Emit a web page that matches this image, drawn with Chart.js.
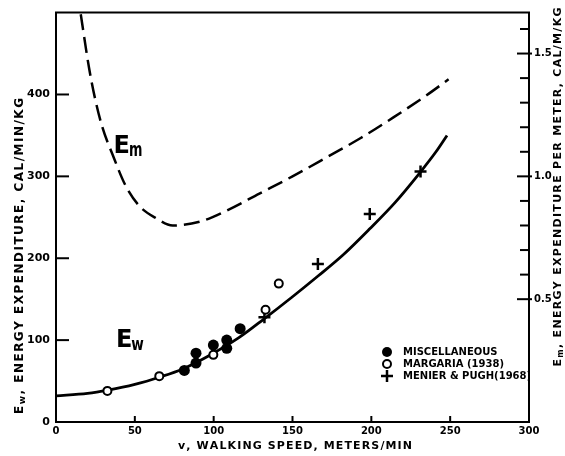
<!DOCTYPE html>
<html><head><meta charset="utf-8">
<script src="https://cdn.jsdelivr.net/npm/chart.js@4.4.1/dist/chart.umd.min.js"></script>
<style>html,body{margin:0;padding:0;background:#fff;}#wrap{width:565px;height:456px;position:relative;}</style>
</head><body><div id="wrap"><canvas id="c" width="565" height="456"></canvas></div>
<script>
const FONT = '"DejaVu Sans", sans-serif';

// Ew curve (cal/min/kg) vs walking speed (m/min)
const ewCurveSpeed  = [0, 20, 33, 50, 66, 80, 97, 116, 132, 150, 166, 182, 199, 215, 231, 241, 248];
const ewCurveEnergy = [32, 35, 39, 46, 55, 64.5, 81, 103, 126, 153, 178, 204, 236, 268, 305, 330, 350];

// Em curve (cal/m/kg, right axis) vs walking speed
const emCurveSpeed  = [15.7, 21, 25, 29.4, 35.8, 44.3, 52.8, 63.4, 74, 91, 108, 129, 150, 171, 193, 214, 235, 249];
const emCurveEnergy = [1.66, 1.44, 1.31, 1.20, 1.09, 0.96, 0.88, 0.83, 0.80, 0.815, 0.86, 0.93, 1.00, 1.075, 1.155, 1.24, 1.33, 1.395];

// Measured points
const miscSpeed  = [81.4, 88.8, 88.8, 99.8, 108.3, 108.3, 116.8];
const miscEnergy = [63, 84, 72, 94, 100, 90, 114];
const margariaSpeed  = [32.6, 65.5, 99.8, 132.9, 141.3];
const margariaEnergy = [38, 56, 82, 137, 169];
const menierSpeed  = [132.2, 166.1, 199, 231.2];
const menierEnergy = [128, 193, 254, 306];

// Ticks
const xTicks = [0, 50, 100, 150, 200, 250, 300];
const leftTicks = [0, 100, 200, 300, 400];
const rightMajorTicks = [0.5, 1.0, 1.5];
const rightMinorTicks = [0.6, 0.7, 0.8, 0.9, 1.1, 1.2, 1.3, 1.4, 1.6];

const legendLabels = ['MISCELLANEOUS', 'MARGARIA (1938)', 'MENIER & PUGH(1968)'];

const pts = (xs, ys) => xs.map((x, i) => ({x, y: ys[i]}));

function drawSpaced(ctx, parts, target) {
  let natural = 0, n = 0;
  const items = [];
  for (const p of parts) {
    ctx.font = 'bold ' + p.size + 'px ' + FONT;
    for (const ch of p.t) {
      const w = ctx.measureText(ch).width * (p.scaleX || 1);
      items.push({ch, w, p});
      natural += w; n++;
    }
  }
  const sp = target ? (target - natural) / (n - 1) : 0;
  let x = -(natural + sp * (n - 1)) / 2;
  for (const it of items) {
    ctx.font = 'bold ' + it.p.size + 'px ' + FONT;
    ctx.save();
    ctx.translate(x, it.p.dy || 0);
    ctx.scale(it.p.scaleX || 1, 1);
    ctx.fillText(it.ch, 0, 0);
    ctx.restore();
    x += it.w + sp;
  }
}

const decor = {
  id: 'decor',
  afterDraw(chart) {
    const ctx = chart.ctx, ca = chart.chartArea;
    const xs = chart.scales.x, ys = chart.scales.y, y1 = chart.scales.y1;
    ctx.save();
    ctx.strokeStyle = '#000'; ctx.fillStyle = '#000'; ctx.lineCap = 'butt';
    ctx.lineWidth = 2;
    ctx.beginPath(); ctx.moveTo(ca.left - 1, ca.top); ctx.lineTo(ca.right + 1, ca.top); ctx.stroke();
    for (const v of leftTicks) {
      if (v === 0) continue;
      const y = ys.getPixelForValue(v);
      ctx.beginPath(); ctx.moveTo(ca.left, y); ctx.lineTo(ca.left + 13, y); ctx.stroke();
    }
    for (const v of xTicks) {
      if (v === 0 || v === 300) continue;
      const x = xs.getPixelForValue(v);
      ctx.beginPath(); ctx.moveTo(x, ca.bottom); ctx.lineTo(x, ca.bottom - 6); ctx.stroke();
    }
    for (const v of rightMajorTicks) {
      const y = y1.getPixelForValue(v);
      ctx.beginPath(); ctx.moveTo(ca.right - 12, y); ctx.lineTo(ca.right + 3, y); ctx.stroke();
    }
    for (const v of rightMinorTicks) {
      const y = y1.getPixelForValue(v);
      ctx.beginPath(); ctx.moveTo(ca.right - 9, y); ctx.lineTo(ca.right, y); ctx.stroke();
    }
    ctx.textAlign = 'left'; ctx.textBaseline = 'alphabetic';
    ctx.save(); ctx.translate(295, 449);
    drawSpaced(ctx, [{t: 'v, WALKING SPEED, METERS/MIN', size: 11}], 234);
    ctx.restore();
    ctx.save(); ctx.translate(23, 256); ctx.rotate(-Math.PI / 2);
    drawSpaced(ctx, [{t: 'E', size: 12}, {t: 'w', size: 9, dy: 2}, {t: ', ENERGY EXPENDITURE, CAL/MIN/KG', size: 12}], 316);
    ctx.restore();
    ctx.save(); ctx.translate(561, 187); ctx.rotate(-Math.PI / 2);
    drawSpaced(ctx, [{t: 'E', size: 11}, {t: 'm', size: 8, dy: 2}, {t: ', ENERGY EXPENDITURE PER METER, CAL/M/KG', size: 11}], 359);
    ctx.restore();

    const drawLabel = (sub, vx, vy, size, subScale) => {
      const x = xs.getPixelForValue(vx), y = ys.getPixelForValue(vy);
      ctx.font = 'bold 24px ' + FONT;
      ctx.fillText('E', x, y);
      const w = ctx.measureText('E').width;
      ctx.save();
      ctx.translate(x + w - 1, y + 3);
      ctx.scale(subScale, 1);
      ctx.font = 'bold ' + size + 'px ' + FONT;
      ctx.fillText(sub, 0, 0);
      ctx.restore();
    };
    drawLabel('m', 36.5, 329, 19, 0.68);
    drawLabel('w', 38, 91, 17, 0.8);

    ctx.save();
    ctx.beginPath(); ctx.rect(ca.left, ca.top, ca.right - ca.left - 1, ca.bottom - ca.top); ctx.clip();
    const lx = 387, ly = [352, 364, 376];
    ctx.beginPath(); ctx.arc(lx, ly[0], 5, 0, Math.PI * 2); ctx.fill();
    ctx.lineWidth = 2;
    ctx.beginPath(); ctx.arc(lx, ly[1], 4, 0, Math.PI * 2); ctx.stroke();
    ctx.lineWidth = 2.5;
    ctx.beginPath(); ctx.moveTo(lx - 6, ly[2]); ctx.lineTo(lx + 6, ly[2]); ctx.moveTo(lx, ly[2] - 6); ctx.lineTo(lx, ly[2] + 6); ctx.stroke();
    ctx.font = 'bold 10px ' + FONT; ctx.textBaseline = 'middle';
    legendLabels.forEach((t, i) => ctx.fillText(t, 403, ly[i] + 0.5));
    ctx.restore();
    ctx.restore();
  }
};

const tickFont = {family: FONT, size: 10, weight: 'bold'};
new Chart(document.getElementById('c'), {
  data: {
    datasets: [
      {type: 'scatter', label: legendLabels[0], data: pts(miscSpeed, miscEnergy), yAxisID: 'y',
       pointStyle: 'circle', pointRadius: 5.5, backgroundColor: '#000', borderColor: '#000', borderWidth: 0, order: 0},
      {type: 'scatter', label: legendLabels[1], data: pts(margariaSpeed, margariaEnergy), yAxisID: 'y',
       pointStyle: 'circle', pointRadius: 4, backgroundColor: '#fff', borderColor: '#000', borderWidth: 2, order: 0},
      {type: 'scatter', label: legendLabels[2], data: pts(menierSpeed, menierEnergy), yAxisID: 'y',
       pointStyle: 'cross', pointRadius: 6, borderColor: '#000', borderWidth: 2.5, order: 0},
      {type: 'line', label: 'Ew', data: pts(ewCurveSpeed, ewCurveEnergy), yAxisID: 'y',
       borderColor: '#000', borderWidth: 2.8, pointRadius: 0, cubicInterpolationMode: 'monotone', fill: false, order: 1},
      {type: 'line', label: 'Em', data: pts(emCurveSpeed, emCurveEnergy), yAxisID: 'y1',
       borderColor: '#000', borderWidth: 2.5, borderDash: [16, 7], pointRadius: 0, cubicInterpolationMode: 'monotone', fill: false, order: 1}
    ]
  },
  options: {
    responsive: false, animation: false, devicePixelRatio: 1,
    layout: {padding: {top: 12, left: 0, right: 0, bottom: 0}},
    plugins: {legend: {display: false}, tooltip: {enabled: false}},
    scales: {
      x: {type: 'linear', min: 0, max: 300,
          afterBuildTicks: s => { s.ticks = xTicks.map(v => ({value: v})); },
          ticks: {font: tickFont, color: '#000', padding: 3, maxRotation: 0, autoSkip: false},
          grid: {display: false, drawTicks: false},
          border: {display: true, color: '#000', width: 2},
          afterFit: s => { s.height = 34; }},
      y: {type: 'linear', position: 'left', min: 0, max: 500,
          afterBuildTicks: s => { s.ticks = leftTicks.map(v => ({value: v})); },
          ticks: {font: {family: FONT, size: 11, weight: 'bold'}, color: '#000', padding: 6},
          grid: {display: false, drawTicks: false},
          border: {display: true, color: '#000', width: 2},
          afterFit: s => { s.width = 56; }},
      y1: {type: 'linear', position: 'right', min: 0, max: 500 / 300,
          afterBuildTicks: s => { s.ticks = rightMajorTicks.map(v => ({value: v})); },
          ticks: {font: tickFont, color: '#000', padding: 5, callback: v => v.toFixed(1)},
          grid: {display: false, drawTicks: false},
          border: {display: true, color: '#000', width: 2},
          afterFit: s => { s.width = 36; }}
    }
  },
  plugins: [decor]
});
</script></body></html>
